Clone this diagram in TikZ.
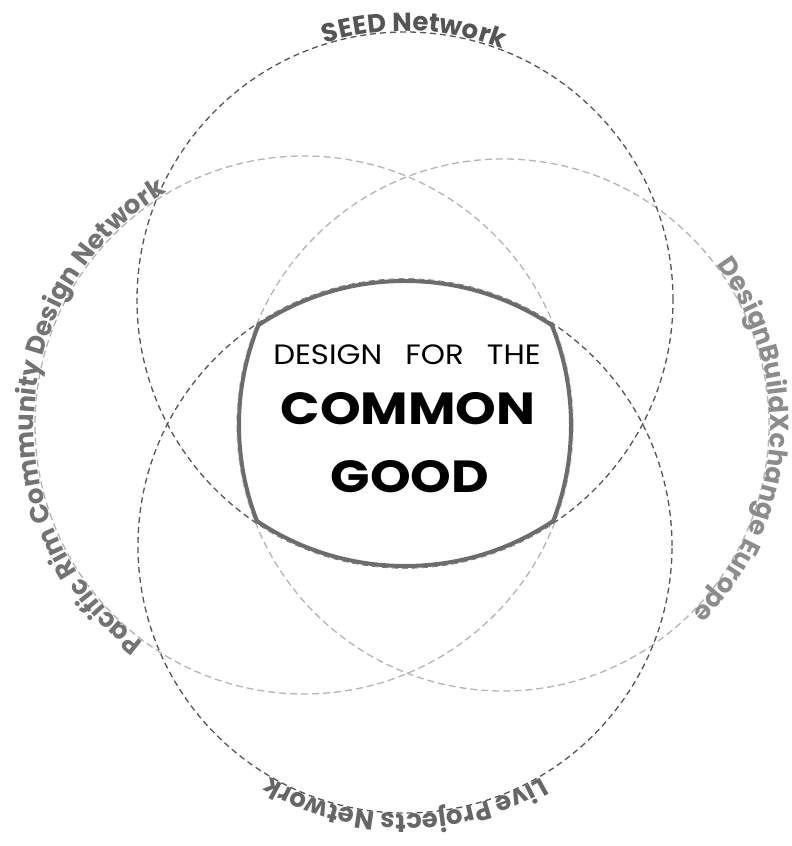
\documentclass[tikz,border=0pt]{standalone}
\usepackage{fontspec}
\setmainfont{Poppins}
\usetikzlibrary{decorations.text}

\definecolor{ringdark}{HTML}{555555}
\definecolor{ringlight}{HTML}{B4B4B4}
\definecolor{edgegray}{HTML}{6C6C6C}

\newcommand{\arcfont}{\fontsize{26}{26}\selectfont\bfseries}
\newcommand{\widen}[1]{\scalebox{1.15}[1]{#1}}

\begin{document}
\begin{tikzpicture}[x=1pt, y=1pt,
  darkring/.style={draw=ringdark, line width=1.3pt, dash pattern=on 6pt off 4pt},
  lightring/.style={draw=ringlight, line width=1.3pt, dash pattern=on 7pt off 4pt},
  arclabel/.style={decorate, decoration={text along path, text align=center, raise=1pt, text color=#1}},
  commonedge/.style={draw=edgegray, line width=8pt}]

  \useasboundingbox (0,0) rectangle (792,846);

  % ring centres
  \coordinate (seed) at (405,546);
  \coordinate (live) at (405,300);
  \coordinate (pacific) at (304,421);
  \coordinate (dbx) at (503,421);

  % rings
  \draw[lightring] (pacific) circle[radius=269pt];
  \draw[lightring] (dbx) circle[radius=266pt];
  \draw[darkring] (seed) circle[radius=268pt];
  \draw[darkring] (live) circle[radius=267pt];

  % common part of all four rings
  \begin{scope}
    \clip (seed) circle[radius=268pt];
    \clip (live) circle[radius=267pt];
    \clip (pacific) circle[radius=269pt];
    \clip (dbx) circle[radius=266pt];
    \fill[white] (0,0) rectangle (792,846);
    \draw[commonedge] (seed) circle[radius=268pt];
    \draw[commonedge] (live) circle[radius=267pt];
    \draw[commonedge] (pacific) circle[radius=269pt];
    \draw[commonedge] (dbx) circle[radius=266pt];
  \end{scope}

  % ring labels
  \path[arclabel=ringdark, decoration={text={|\arcfont|SEED Network}}]
    (seed) ++(168:268pt) arc[start angle=168, end angle=8, radius=268pt];
  \path[arclabel=ringdark!90, decoration={text={|\arcfont|Live Projects Network}}]
    (live) ++(0:267pt) arc[start angle=0, end angle=-180, radius=267pt];
  \path[arclabel=black!55, decoration={text={|\arcfont|Pacific Rim Community Design Network}}]
    (pacific) ++(262:269pt) arc[start angle=262, end angle=92, radius=269pt];
  \path[arclabel=black!45, decoration={text={|\arcfont|DesignBuildXchange Europe}}]
    (dbx) ++(76:266pt) arc[start angle=76, end angle=-84, radius=266pt];

  % title
  \node[anchor=base, font=\fontsize{28}{28}\selectfont] (design) at (407,481)
    {\scalebox{1.1}[1]{DESIGN\hspace{0.75em}FOR\hspace{0.75em}THE}};
  \node[anchor=base, font=\fontsize{45}{45}\selectfont\bfseries] (common) at (408,421) {\widen{COMMON}};
  \node[anchor=base, font=\fontsize{45}{45}\selectfont\bfseries] (good) at (410,353) {\widen{GOOD}};

\end{tikzpicture}
\end{document}
